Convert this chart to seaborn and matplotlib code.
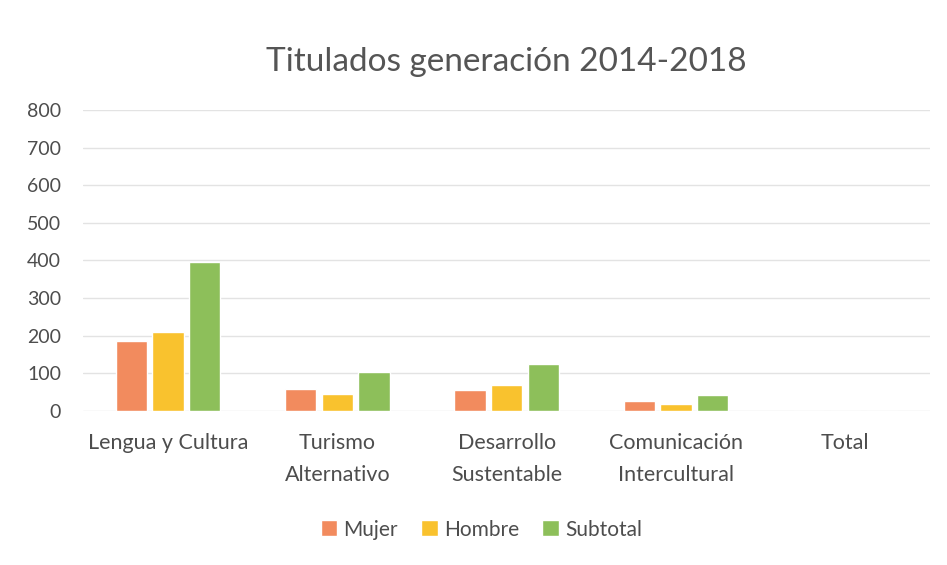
import matplotlib
matplotlib.use("Agg")
import matplotlib.pyplot as plt
import seaborn as sns
import pandas as pd

# datos
carreras = ["Lengua y Cultura", "Turismo\nAlternativo", "Desarrollo\nSustentable",
            "Comunicación\nIntercultural", "Total"]
mujer = [186, 57, 55, 25, 0]
hombre = [210, 45, 69, 18, 0]
subtotal = [396, 102, 124, 43, 0]
series = ["Mujer", "Hombre", "Subtotal"]
colores = ["#F28B5E", "#F9C22E", "#8DBF5A"]

df = pd.DataFrame({"carrera": carreras * 3,
                   "serie": [s for s in series for _ in carreras],
                   "valor": mujer + hombre + subtotal})

sns.set_theme(style="white")
plt.rcParams['font.family'] = ['Lato', 'DejaVu Sans']

fig, ax = plt.subplots(figsize=(9.47, 5.65), dpi=100)
sns.barplot(data=df, x="carrera", y="valor", hue="serie", palette=colores,
            width=0.65, gap=0.15, ax=ax, saturation=1)

ax.set_ylim(0, 800)
ax.set_yticks(range(0, 801, 100))
ax.yaxis.grid(True, color="#E3E3E3", linewidth=1)
ax.set_axisbelow(True)
for s in ax.spines.values():
    s.set_visible(False)
ax.set_xlabel("")
ax.set_ylabel("")
ax.tick_params(axis="both", length=0, colors="#4D4D4D")
ax.tick_params(axis="y", labelsize=14, pad=16)
ax.tick_params(axis="x", labelsize=15.5, pad=16)
for lbl in ax.get_xticklabels():
    lbl.set_linespacing(1.75)
ax.set_title("Titulados generación 2014-2018", fontsize=24, color="#555555", pad=28)

ax.legend(loc="upper center", bbox_to_anchor=(0.47, -0.30), ncol=3, frameon=False,
          fontsize=15, handlelength=0.8, handleheight=0.8, handletextpad=0.3,
          columnspacing=1.1, labelcolor="#4D4D4D")

plt.subplots_adjust(left=0.088, right=0.982, top=0.805, bottom=0.273)
plt.savefig("out.png", dpi=100)
